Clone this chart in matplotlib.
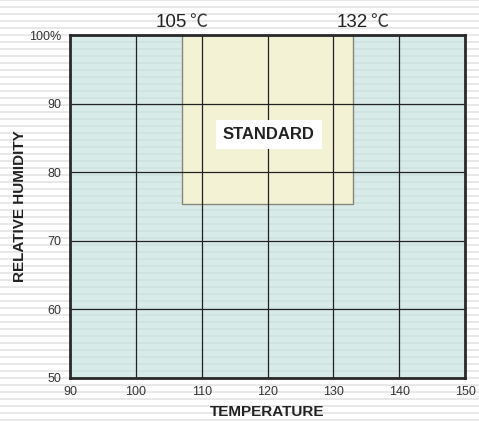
import numpy as np
import matplotlib.pyplot as plt
from matplotlib.patches import Rectangle

plt.rcParams['font.family'] = ['Liberation Sans', 'Noto Sans CJK SC', 'DejaVu Sans']

# chart data
temp_ticks = [90, 100, 110, 120, 130, 140, 150]
hum_ticks = [50, 60, 70, 80, 90, 100]
hum_labels = ['50', '60', '70', '80', '90', '100%']
std_temp = [107, 133]        # standard zone, temperature range
std_hum = [75.3, 100]        # standard zone, humidity range
top_values = ['105', '132']
top_value_x = [107.8, 135.3]

W, H = 479, 421
fig = plt.figure(figsize=(W / 100, H / 100), dpi=100)

# plot area (figure fractions)
L, B, R, T = 70 / W, 1 - 378 / H, 465 / W, 1 - 35 / H

# striped background in pixel coordinates
bg = fig.add_axes([0, 0, 1, 1], zorder=-1)
bg.set_xlim(0, W)
bg.set_ylim(0, H)
bg.axis('off')
period, band = 7, 2.2
for y0 in np.arange(0, H, period):
    bg.axhspan(y0, y0 + band, color='#e8e8e8', lw=0)
px0, py0, px1, py1 = L * W, B * H, R * W, T * H
bg.add_patch(Rectangle((px0, py0), px1 - px0, py1 - py0, color='#d9ebe9', lw=0))
for y0 in np.arange(0, H, period):
    lo, hi = max(y0, py0), min(y0 + band, py1)
    if hi > lo:
        bg.add_patch(Rectangle((px0, lo), px1 - px0, hi - lo, color='#cfe3e0', lw=0))

ax = fig.add_axes([L, B, R - L, T - B])
ax.patch.set_alpha(0)
ax.set_xlim(temp_ticks[0], temp_ticks[-1])
ax.set_ylim(hum_ticks[0], hum_ticks[-1])

ax.add_patch(Rectangle((std_temp[0], std_hum[0]), std_temp[1] - std_temp[0],
                       std_hum[1] - std_hum[0], facecolor='#f4f2d4',
                       edgecolor='#85857a', lw=1, zorder=1))

ax.set_xticks(temp_ticks)
ax.set_yticks(hum_ticks)
ax.set_yticklabels(hum_labels)
ax.tick_params(length=0, labelsize=9, labelcolor='#333333', pad=6)
ax.grid(True, color='#222222', lw=0.9, zorder=2)
ax.set_axisbelow(False)
for s in ax.spines.values():
    s.set_linewidth(2)
    s.set_color('#2a2a2a')
    s.set_zorder(4)

ax.text(120.2, 85.5, 'STANDARD', ha='center', va='center', fontsize=12,
        fontweight='bold', color='#222222', zorder=5,
        bbox=dict(boxstyle='square,pad=0.42', facecolor='white', edgecolor='none'))

for x, s in zip(top_value_x, top_values):
    ax.text(x, 101.2, s, ha='right', va='baseline', fontsize=13.5,
            color='#222222', clip_on=False)
    ax.text(x + 0.25, 101.2, '℃', ha='left', va='baseline', fontsize=13,
            color='#333333', family=['Noto Sans CJK SC', 'DejaVu Sans'], clip_on=False)

ax.set_xlabel('TEMPERATURE', fontsize=11, fontweight='bold', color='#222222', labelpad=5)
ax.set_ylabel('RELATIVE HUMIDITY', fontsize=11, fontweight='bold', color='#222222')
ax.yaxis.set_label_coords(-43 / 395, 0.5)

fig.savefig('out.png', dpi=100)
